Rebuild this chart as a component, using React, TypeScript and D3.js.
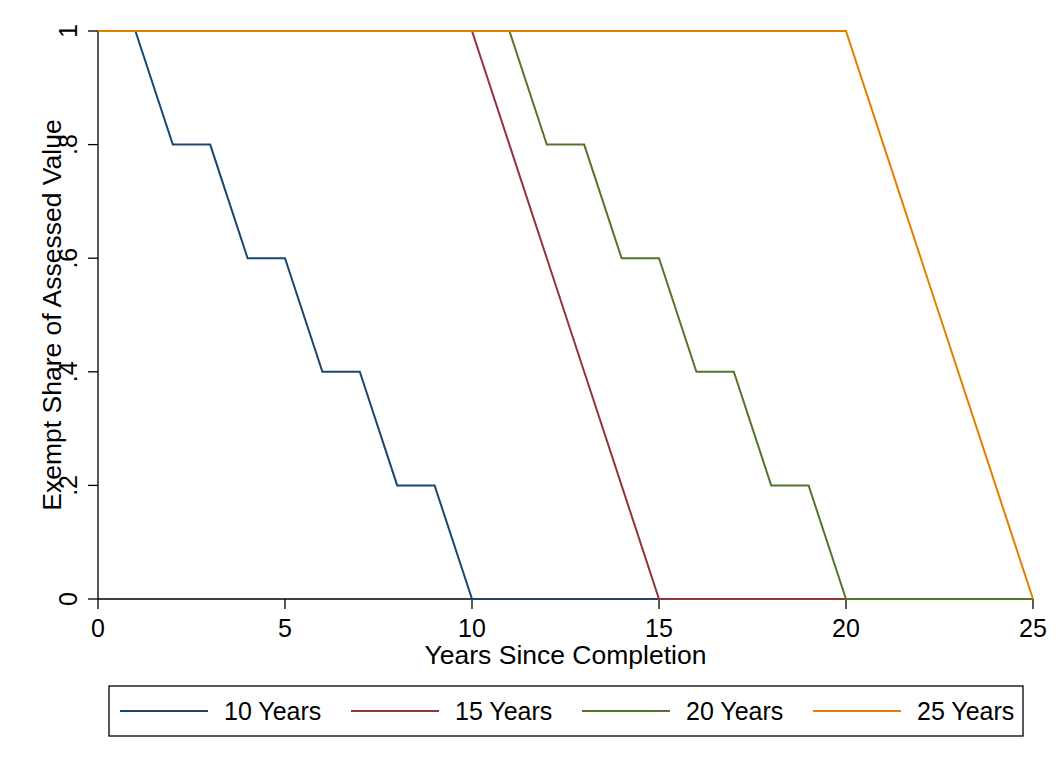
import React from "react";
import * as d3 from "d3";

const width = 1060;
const height = 770;
const margin = { top: 31, right: 27, bottom: 171, left: 98 };

const years = d3.range(0, 26);
const seriesNames = ["10 Years", "15 Years", "20 Years", "25 Years"];
const colors = ["#1a476f", "#90353b", "#55752f", "#e37e00"];

const tenYears = [1, 1, .8, .8, .6, .6, .4, .4, .2, .2, 0, 0, 0, 0, 0, 0, 0, 0, 0, 0, 0, 0, 0, 0, 0, 0];
const fifteenYears = [1, 1, 1, 1, 1, 1, 1, 1, 1, 1, 1, .8, .6, .4, .2, 0, 0, 0, 0, 0, 0, 0, 0, 0, 0, 0];
const twentyYears = [1, 1, 1, 1, 1, 1, 1, 1, 1, 1, 1, 1, .8, .8, .6, .6, .4, .4, .2, .2, 0, 0, 0, 0, 0, 0];
const twentyFiveYears = [1, 1, 1, 1, 1, 1, 1, 1, 1, 1, 1, 1, 1, 1, 1, 1, 1, 1, 1, 1, 1, .8, .6, .4, .2, 0];

const xTicks = [0, 5, 10, 15, 20, 25];
const yTicks = [0, .2, .4, .6, .8, 1];
const yTickLabels = ["0", ".2", ".4", ".6", ".8", "1"];

const font = "Liberation Sans, Arial, Helvetica, sans-serif";

export default function App() {
  const x = d3.scaleLinear().domain([0, 25]).range([margin.left, width - margin.right]);
  const y = d3.scaleLinear().domain([0, 1]).range([height - margin.bottom, margin.top]);

  const line = d3.line<number>()
    .x((d, i) => x(years[i]))
    .y(d => y(d));

  const series = [tenYears, fifteenYears, twentyYears, twentyFiveYears];

  const legendX = 109, legendY = 686, legendW = 914, legendH = 50;
  const legendItemX = [120, 351, 582, 813];

  return (
    <svg width={width} height={height} style={{ position: "absolute", left: 0, top: 0 }} fontFamily={font}>
      <rect width={width} height={height} fill="#fff" />
      {/* axes */}
      <line x1={x(0)} x2={x(0)} y1={y(1)} y2={y(0)} stroke="#000" strokeWidth={1.3} />
      <line x1={x(0)} x2={x(25)} y1={y(0)} y2={y(0)} stroke="#000" strokeWidth={1.3} />
      {yTicks.map((t, i) => (
        <g key={"y" + i}>
          <line x1={x(0) - 10} x2={x(0)} y1={y(t)} y2={y(t)} stroke="#000" strokeWidth={1.3} />
          <text
            transform={`translate(${x(0) - 21},${y(t)}) rotate(-90)`}
            textAnchor="middle"
            fontSize={25}
            fill="#000"
          >{yTickLabels[i]}</text>
        </g>
      ))}
      {xTicks.map(t => (
        <g key={"x" + t}>
          <line x1={x(t)} x2={x(t)} y1={y(0)} y2={y(0) + 10} stroke="#000" strokeWidth={1.3} />
          <text x={x(t)} y={y(0) + 38} textAnchor="middle" fontSize={25} fill="#000">{t}</text>
        </g>
      ))}
      <text x={(x(0) + x(25)) / 2} y={664} textAnchor="middle" fontSize={26.5} fill="#000">Years Since Completion</text>
      <text
        transform={`translate(61,${(y(0) + y(1)) / 2}) rotate(-90)`}
        textAnchor="middle"
        fontSize={26.5}
        fill="#000"
      >Exempt Share of Assessed Value</text>

      {/* lines */}
      {series.map((s, i) => (
        <path key={seriesNames[i]} d={line(s) || ""} fill="none" stroke={colors[i]} strokeWidth={2} strokeLinejoin="miter" />
      ))}

      {/* legend */}
      <rect x={legendX} y={legendY} width={legendW} height={legendH} fill="#fff" stroke="#000" strokeWidth={1.3} />
      {seriesNames.map((name, i) => (
        <g key={"leg" + i}>
          <line x1={legendItemX[i]} x2={legendItemX[i] + 88} y1={legendY + 25} y2={legendY + 25} stroke={colors[i]} strokeWidth={2} />
          <text x={legendItemX[i] + 104} y={legendY + 34} fontSize={25} fill="#000">{name}</text>
        </g>
      ))}
    </svg>
  );
}
